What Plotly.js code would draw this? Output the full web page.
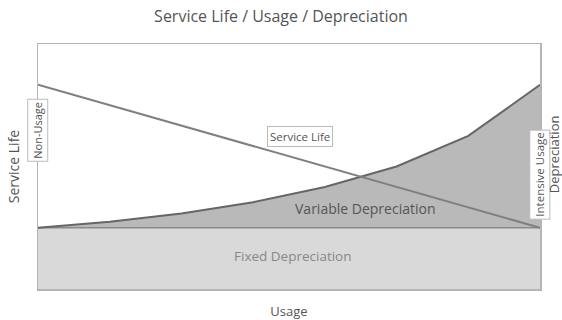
<!DOCTYPE html>
<html lang="en">
<head>
    <meta charset="UTF-8">
    <title>Service Life / Usage / Depreciation</title>
    <script src="https://cdn.plot.ly/plotly-3.0.1.min.js"></script>
    <style>
        body { margin: 0; background: #fff; }
        #chart { width: 562px; height: 320px; }
    </style>
</head>
<body>
    <div id="chart"></div>
    <script>
        // usage steps along the x axis
        const usage = [0, 1, 2, 3, 4, 5, 6, 7];
        const fixedDep = [3, 3, 3, 3, 3, 3, 3, 3];
        const totalDep = [3, 3.3, 3.7, 4.25, 5, 6, 7.5, 10];
        const lifeX = [0, 7];
        const serviceLife = [10, 3];

        const font = "Open Sans, sans-serif";

        const traces = [
            {
                x: usage, y: fixedDep, mode: "lines", fill: "tozeroy",
                fillcolor: "#d9d9d9", line: { color: "#8a8a8a", width: 1.5 },
                hoverinfo: "skip"
            },
            {
                x: usage, y: totalDep, mode: "lines", fill: "tonexty",
                fillcolor: "#b9b9b9", line: { color: "#666", width: 2 },
                hoverinfo: "skip"
            },
            {
                x: lifeX, y: serviceLife, mode: "lines",
                line: { color: "#7f7f7f", width: 2 },
                hoverinfo: "skip"
            }
        ];

        const boxed = { bgcolor: "#fff", bordercolor: "#bbb", borderwidth: 1, borderpad: 2, showarrow: false };

        const layout = {
            width: 562, height: 320,
            margin: { l: 38, r: 22, t: 44, b: 31 },
            paper_bgcolor: "#fff", plot_bgcolor: "#fff",
            showlegend: false,
            font: { family: font, color: "#555" },
            title: { text: "Service Life / Usage / Depreciation", x: 0.5, y: 0.95, yanchor: "middle", font: { size: 16, color: "#555" } },
            xaxis: {
                range: [0, 7], showgrid: false, zeroline: false, showticklabels: false, ticks: "",
                showline: true, mirror: true, linecolor: "#b5b5b5", linewidth: 1.5,
                title: { text: "Usage", font: { size: 13, color: "#555" }, standoff: 17 }
            },
            yaxis: {
                range: [0, 12], showgrid: false, zeroline: false, showticklabels: false, ticks: "",
                showline: true, mirror: true, linecolor: "#b5b5b5", linewidth: 1.5,
                title: { text: "Service Life", font: { size: 14, color: "#555" }, standoff: 13 }
            },
            annotations: [
                Object.assign({ x: 3.65, y: 7.45, text: "Service Life", font: { size: 11.5, color: "#555" } }, boxed),
                Object.assign({ x: 0, y: 7.75, text: "Non-Usage", textangle: -90, font: { size: 11, color: "#555" } }, boxed),
                Object.assign({ x: 7, y: 5.6, text: "Intensive Usage", textangle: -90, font: { size: 11.5, color: "#555" } }, boxed),
                { x: 4.56, y: 3.92, text: "Variable Depreciation", showarrow: false, font: { size: 14, color: "#555" } },
                { x: 3.56, y: 1.62, text: "Fixed Depreciation", showarrow: false, font: { size: 13.5, color: "#888" } },
                { xref: "paper", yref: "paper", x: 1.028, y: 0.55, xanchor: "center", text: "Depreciation", textangle: -90, showarrow: false, font: { size: 13, color: "#555" } }
            ]
        };

        Plotly.newPlot("chart", traces, layout, { displayModeBar: false, staticPlot: true });
    </script>
</body>
</html>
